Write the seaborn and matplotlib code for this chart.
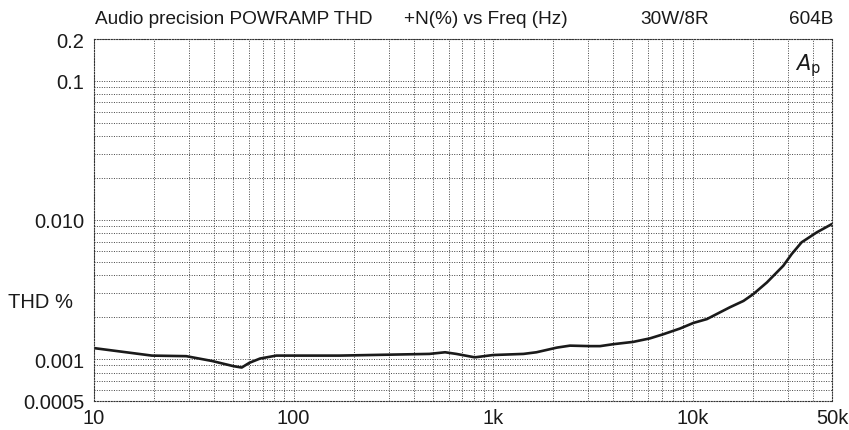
"""THD+N vs frequency, Audio Precision sweep of a 30W/8R power amp (604B)."""

import matplotlib.pyplot as plt
import matplotlib.ticker as mticker
import numpy as np
import pandas as pd
import seaborn as sns

# values
FREQ_HZ = [10, 19.5, 29, 39, 50, 55, 60, 68, 82, 170, 480, 575, 655, 810, 1000,
           1420, 1650, 2090, 2430, 3060, 3440, 4000, 5040, 6120, 7140, 8660,
           10100, 11800, 15400, 18000, 20200, 23600, 28500, 31400, 35200, 42000, 50000]
THD_PCT = [0.00120, 0.00106, 0.00105, 0.00097, 0.00089, 0.00087, 0.00094, 0.00101,
           0.00106, 0.00106, 0.00109, 0.00112, 0.00109, 0.00103, 0.00107, 0.00109,
           0.00112, 0.00121, 0.00125, 0.00124, 0.00124, 0.00128, 0.00133, 0.00141,
           0.00151, 0.00166, 0.00182, 0.00194, 0.00236, 0.00262, 0.00294, 0.00356,
           0.00469, 0.00569, 0.00691, 0.00816, 0.00936]

X_TICKS = [10, 100, 1000, 10000, 50000]
X_LABELS = ["10", "100", "1k", "10k", "50k"]
Y_TICKS = [0.0005, 0.001, 0.01, 0.1, 0.2]
Y_LABELS = ["0.0005", "0.001", "0.010", "0.1", "0.2"]

sns.set_style("white")
plt.rcParams["font.family"] = ["Liberation Sans", "DejaVu Sans"]

df = pd.DataFrame({"freq": FREQ_HZ, "thd": THD_PCT})

fig = plt.figure(figsize=(8.49, 4.31), dpi=100)
ax = fig.add_axes([94 / 849, 1 - 402 / 431, (832 - 94) / 849, (402 - 40) / 431])

sns.lineplot(data=df, x="freq", y="thd", ax=ax, color="#1a1a1a", linewidth=1.9)

ax.set_xscale("log")
ax.set_yscale("log")
ax.set_xlim(10, 50000)
ax.set_ylim(0.0005, 0.2)

ax.xaxis.set_major_locator(mticker.FixedLocator(X_TICKS))
ax.xaxis.set_major_formatter(mticker.FixedFormatter(X_LABELS))
ax.yaxis.set_major_locator(mticker.FixedLocator(Y_TICKS))
ax.yaxis.set_major_formatter(mticker.FixedFormatter(Y_LABELS))
for axis in (ax.xaxis, ax.yaxis):
    axis.set_minor_locator(mticker.LogLocator(base=10, subs=np.arange(2, 10), numticks=20))
    axis.set_minor_formatter(mticker.NullFormatter())

ax.grid(which="both", linestyle=(0, (1, 1.5)), color="#444444", linewidth=0.7)
ax.tick_params(which="both", length=0, labelsize=14.5, colors="#1a1a1a")
ax.tick_params(axis="y", pad=7)
ax.tick_params(axis="x", pad=5)
for sp in ax.spines.values():
    sp.set_linestyle((0, (1, 1.5)))
    sp.set_linewidth(0.8)
    sp.set_color("#333333")
ax.set_xlabel("")
ax.set_ylabel("")

fig.text(8 / 849, 1 - 303 / 431, "THD %", fontsize=14.5, va="center", ha="left", color="#1a1a1a")
ax.text(0.985, 0.93, r"$A_\mathrm{p}$", transform=ax.transAxes, fontsize=15,
        ha="right", va="center", color="#1a1a1a")

ty = 1 - 20 / 431
fig.text(95 / 849, ty, "Audio precision POWRAMP THD", fontsize=13.7, va="center", color="#1a1a1a")
fig.text(404 / 849, ty, "+N(%) vs Freq (Hz)", fontsize=13.7, va="center", color="#1a1a1a")
fig.text(640 / 849, ty, "30W/8R", fontsize=13.7, va="center", color="#1a1a1a")
fig.text(833 / 849, ty, "604B", fontsize=13.7, va="center", ha="right", color="#1a1a1a")

fig.savefig("out.png", dpi=100)
